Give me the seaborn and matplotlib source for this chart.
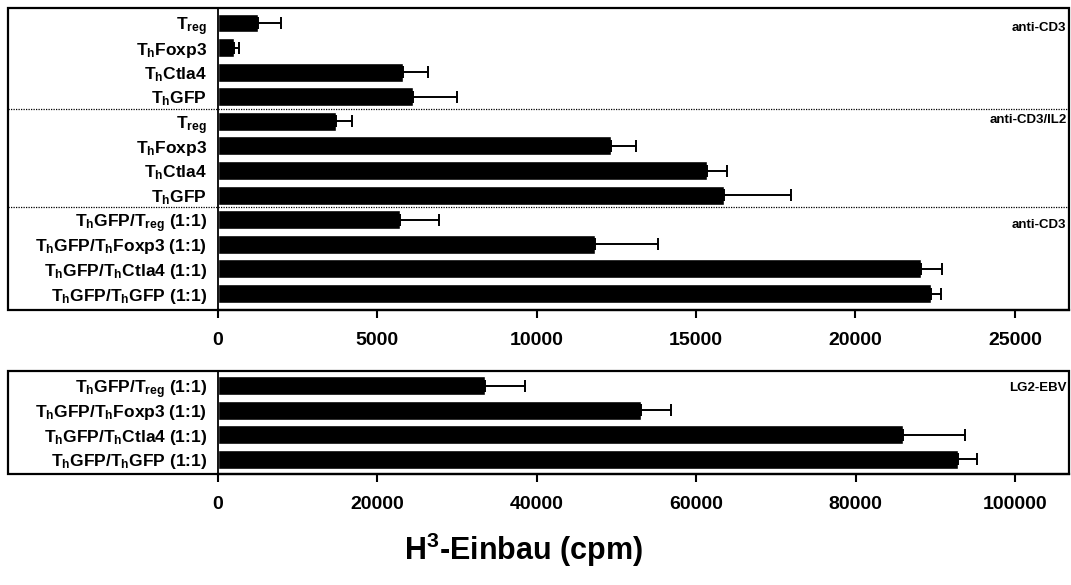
import numpy as np
import pandas as pd
import seaborn as sns
import matplotlib
matplotlib.use("Agg")
import matplotlib.pyplot as plt
from matplotlib.patches import Rectangle

# ---------------- data ----------------
labels_top = [r"T$_{reg}$", r"T$_{h}$Foxp3", r"T$_{h}$Ctla4", r"T$_{h}$GFP",
              r"T$_{reg}$", r"T$_{h}$Foxp3", r"T$_{h}$Ctla4", r"T$_{h}$GFP",
              r"T$_{h}$GFP/T$_{reg}$ (1:1)", r"T$_{h}$GFP/T$_{h}$Foxp3 (1:1)",
              r"T$_{h}$GFP/T$_{h}$Ctla4 (1:1)", r"T$_{h}$GFP/T$_{h}$GFP (1:1)"]
values_top = [1270, 490, 5800, 6120, 3700, 12340, 15340, 15880, 5700, 11820, 22050, 22370]
errors_top = [700, 160, 790, 1380, 510, 790, 620, 2110, 1220, 1970, 670, 310]
group_labels_top = ["anti-CD3", "anti-CD3/IL2", "anti-CD3"]
ticks_top = [0, 5000, 10000, 15000, 20000, 25000]

labels_bot = [r"T$_{h}$GFP/T$_{reg}$ (1:1)", r"T$_{h}$GFP/T$_{h}$Foxp3 (1:1)",
              r"T$_{h}$GFP/T$_{h}$Ctla4 (1:1)", r"T$_{h}$GFP/T$_{h}$GFP (1:1)"]
values_bot = [33460, 53100, 85950, 92900]
errors_bot = [5090, 3760, 7730, 2300]
group_labels_bot = ["LG2-EBV"]
ticks_bot = [0, 20000, 40000, 60000, 80000, 100000]

xlabel = r"H$^{3}$-Einbau (cpm)"

# ---------------- style ----------------
sns.set_theme(style="white")
plt.rcParams["font.family"] = ["Liberation Sans", "DejaVu Sans"]
plt.rcParams["font.weight"] = "bold"
plt.rcParams["text.color"] = "black"
plt.rcParams["axes.labelcolor"] = "black"
plt.rcParams["xtick.color"] = "black"
plt.rcParams["ytick.color"] = "black"
plt.rcParams["mathtext.fontset"] = "custom"
plt.rcParams["mathtext.rm"] = "Liberation Sans:bold"
plt.rcParams["mathtext.it"] = "Liberation Sans:bold"
plt.rcParams["mathtext.bf"] = "Liberation Sans:bold"
plt.rcParams["mathtext.sf"] = "Liberation Sans:bold"

W, H = 1071, 585
fig = plt.figure(figsize=(W / 100, H / 100), dpi=100)

def fx(px):
    return px / W

def fy(py):
    return 1 - py / H

ax_left, ax_right = 218, 1069
ax1 = fig.add_axes([fx(ax_left), fy(310), fx(ax_right - ax_left), (310 - 8) / H])
ax2 = fig.add_axes([fx(ax_left), fy(474), fx(ax_right - ax_left), (474 - 371) / H])

def draw_panel(ax, labels, values, errors, ticks, xmax, ylim):
    n = len(values)
    df = pd.DataFrame({"key": [str(i) for i in range(n)], "value": values})
    sns.barplot(data=df, x="value", y="key", color="black", saturation=1,
                width=0.77, errorbar=None, ax=ax, orient="h")
    ax.errorbar(values, np.arange(n), xerr=[np.zeros(n), errors], fmt="none",
                ecolor="black", elinewidth=1.4, capsize=4, capthick=1.4, zorder=3)
    ax.set_xlim(0, xmax)
    ax.set_ylim(*ylim)
    ax.set_yticks(np.arange(n))
    ax.set_yticklabels(labels, fontsize=12.5, fontweight="bold", color="black")
    ax.set_xticks(ticks)
    ax.set_xticklabels([str(t) for t in ticks], fontsize=14, fontweight="bold",
                       color="black")
    ax.set_xlabel("")
    ax.set_ylabel("")
    ax.tick_params(axis="x", length=6, width=1.5, direction="out", pad=10,
                   colors="black", bottom=True)
    ax.tick_params(axis="y", length=0, pad=8, colors="black")
    for s in ["top", "right"]:
        ax.spines[s].set_visible(False)
    ax.spines["left"].set_linewidth(1.3)
    ax.spines["left"].set_color("black")
    ax.spines["bottom"].set_linewidth(1.6)
    ax.spines["bottom"].set_color("black")
    ax.grid(False)

draw_panel(ax1, labels_top, values_top, errors_top, ticks_top, 26700, (11.67, -0.61))
draw_panel(ax2, labels_bot, values_bot, errors_bot, ticks_bot, 106770, (3.6, -0.59))

# outer frames
for top, bot in [(8, 310), (371, 474)]:
    fig.patches.append(Rectangle((fx(8), fy(bot)), fx(ax_right - 8), (bot - top) / H,
                                 transform=fig.transFigure, fill=False,
                                 edgecolor="black", linewidth=1.6, zorder=5))

# dotted separators
x0 = (8 - ax_left) / (ax_right - ax_left)
for yv in [3.5, 7.5]:
    ax1.plot([x0, 1], [yv, yv], transform=ax1.get_yaxis_transform(),
             color="black", linewidth=0.9, linestyle=(0, (1, 1)), clip_on=False)

# group labels
for row, lab in zip([0.2, 3.95, 8.2], group_labels_top):
    ax1.text(0.997, row, lab, transform=ax1.get_yaxis_transform(), ha="right",
             va="center", fontsize=9.5, fontweight="bold", color="black")
ax2.text(0.997, 0.1, group_labels_bot[0], transform=ax2.get_yaxis_transform(),
         ha="right", va="center", fontsize=9.5, fontweight="bold", color="black")

fig.text(fx(523), fy(550), xlabel, ha="center", va="center", fontsize=22,
         fontweight="bold", color="black")

fig.savefig("out.png", dpi=100)
